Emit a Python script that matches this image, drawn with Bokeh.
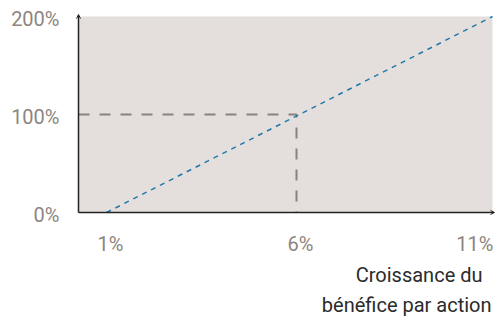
from bokeh.plotting import figure
from bokeh.models import Range1d, Label, Arrow, OpenHead
from bokeh.embed import file_html
from bokeh.resources import INLINE

# data
x_ticks = [1, 6, 11]
x_tick_labels = ["1%", "6%", "11%"]
y_ticks = [0, 100, 200]
y_tick_labels = ["0%", "100%", "200%"]
ref_x = 6
ref_y = 100
x_title = ["Croissance du", "bénéfice par action"]

W, H = 496, 317
# pixel <-> data mapping of the chart area
X0_PX, X_PER_PX = 106, 38.0     # x=1 at 106 px, 38 px per unit
Y0_PX, Y_PER_PX = 212, 0.98     # y=0 at 212 px


def dx(px):
    return 1 + (px - X0_PX) / X_PER_PX


def dy(py):
    return (Y0_PX - py) / Y_PER_PX


X_MIN, X_MAX = dx(78), dx(492)
Y_MIN, Y_MAX = 0, 200

line_x = [1, X_MAX]
line_y = [0, 200]

FONT = "Roboto"
GRAY_TXT = "#8d8580"

p = figure(width=W, height=H, output_backend="svg", toolbar_location=None,
           x_range=Range1d(dx(0), dx(W)), y_range=Range1d(dy(H), dy(0)),
           x_axis_location=None, y_axis_location=None,
           min_border=0)
p.grid.visible = False
p.outline_line_color = None
p.background_fill_color = "white"
p.border_fill_color = "white"

# plot area background
p.quad(left=[X_MIN], right=[X_MAX], bottom=[Y_MIN], top=[Y_MAX],
       fill_color="#e4dfdc", line_color=None)

# reference dashed lines
p.line([X_MIN, ref_x, ref_x], [ref_y, ref_y, Y_MIN], line_color="#8a817c",
       line_width=2, line_dash="11 10")

# blue dotted line
p.line(line_x, line_y, line_color="#1f7aab", line_width=1.5, line_dash="5 5")

# axes with arrows
p.add_layout(Arrow(x_start=X_MIN, y_start=Y_MIN, x_end=dx(494), y_end=Y_MIN,
                   line_color="#222222", line_width=1.5,
                   end=OpenHead(size=4, line_width=1, line_color="#222222")))
p.add_layout(Arrow(x_start=X_MIN, y_start=Y_MIN, x_end=X_MIN, y_end=dy(14),
                   line_color="#222222", line_width=1.5,
                   end=OpenHead(size=4, line_width=1, line_color="#222222")))

# y tick labels
for yv, lab in zip(y_ticks, y_tick_labels):
    p.add_layout(Label(x=dx(59), y=yv - 2 / Y_PER_PX, text=lab, text_align="right",
                       text_baseline="middle", text_font=FONT,
                       text_font_size="20px", text_color=GRAY_TXT))

# x tick labels
for i, (xv, lab) in enumerate(zip(x_ticks, x_tick_labels)):
    last = i == len(x_ticks) - 1
    p.add_layout(Label(x=dx(493) if last else xv + 4 / X_PER_PX, y=dy(243),
                       text=lab, text_align="right" if last else "center",
                       text_baseline="middle", text_font=FONT,
                       text_font_size="20px", text_color=GRAY_TXT))

# x title, two lines right-aligned
title_right = [482, 491]
title_mid = [274, 304]
for t, xr, ym in zip(x_title, title_right, title_mid):
    p.add_layout(Label(x=dx(xr), y=dy(ym), text=t,
                       text_align="right", text_baseline="middle",
                       text_font=FONT, text_font_size="20px",
                       text_color="#2b2b2b"))

open("out.html", "w").write(file_html(p, INLINE))
